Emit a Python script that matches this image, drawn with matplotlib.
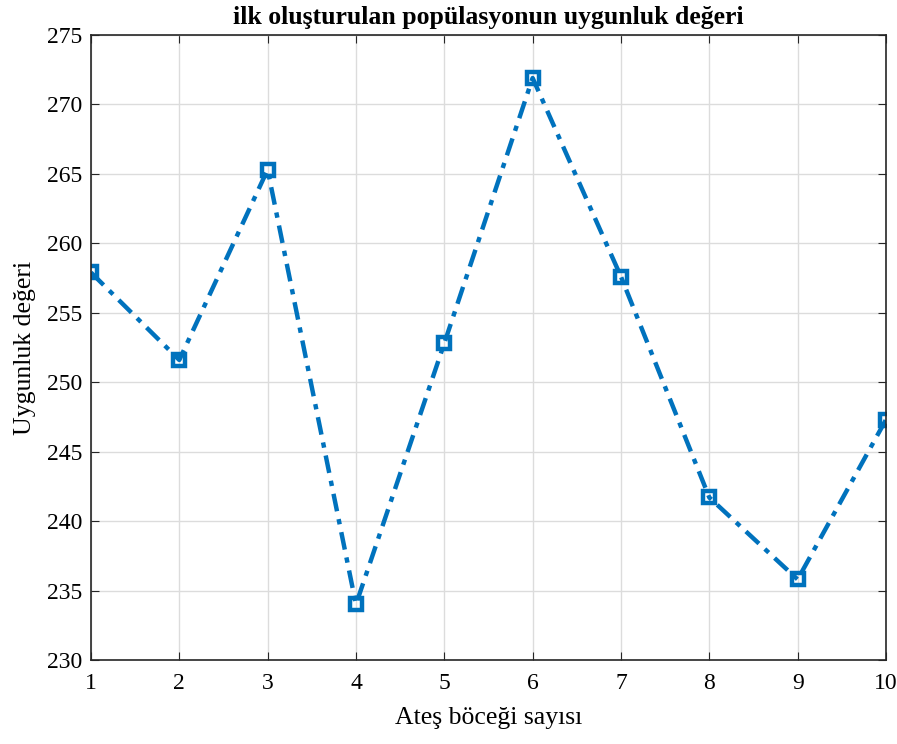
import matplotlib.pyplot as plt

# ates bocegi sayisi vs uygunluk degeri
bocek = [1, 2, 3, 4, 5, 6, 7, 8, 9, 10]
uygunluk = [257.9, 251.6, 265.3, 234.0, 252.8, 271.9, 257.6, 241.7, 235.8, 247.3]
xticks = [1, 2, 3, 4, 5, 6, 7, 8, 9, 10]
yticks = [230, 235, 240, 245, 250, 255, 260, 265, 270, 275]

plt.rcParams['font.family'] = ['Liberation Serif', 'DejaVu Serif']

fig = plt.figure(figsize=(8.97, 7.44), dpi=100)
ax = fig.add_axes([0.1014, 0.1129, 0.8863, 0.8401])

ax.plot(bocek, uygunluk, linestyle='-.', color='#0072BD', linewidth=3.2,
        marker='s', markersize=9, markerfacecolor='none', markeredgewidth=3.2,
        dashes=(4, 1.8, 1.2, 1.8))

ax.set_xlim(1, 10)
ax.set_ylim(230, 275)
ax.set_xticks(xticks)
ax.set_yticks(yticks)
ax.grid(True, color='#dcdcdc', linewidth=1)
ax.set_axisbelow(True)
ax.tick_params(direction='in', top=True, right=True, labelsize=17, length=6,
               pad=6, color='#262626')
ax.tick_params(axis='x', pad=9)
for s in ax.spines.values():
    s.set_color('#262626')
    s.set_linewidth(1.2)

ax.set_title('ilk oluşturulan popülasyonun uygunluk değeri', fontsize=18.5,
             fontweight='bold', pad=8)
ax.set_xlabel('Ateş böceği sayısı', fontsize=18.5, labelpad=10)
ax.set_ylabel('Uygunluk değeri', fontsize=18.5, labelpad=8)

fig.savefig('out.png')
